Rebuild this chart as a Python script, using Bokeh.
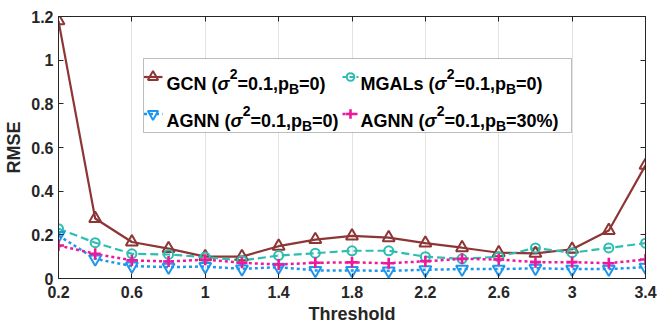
from bokeh.plotting import figure
from bokeh.models import (Range1d, FixedTicker, LinearAxis, CustomJSTickFormatter,
                          BoxAnnotation, Label)
from bokeh.embed import file_html
from bokeh.resources import INLINE

# ---------------- data ----------------
thresholds = [0.2, 0.4, 0.6, 0.8, 1.0, 1.2, 1.4, 1.6, 1.8, 2.0, 2.2, 2.4, 2.6, 2.8, 3.0, 3.2, 3.4]
gcn    = [1.18, 0.275, 0.167, 0.137, 0.100, 0.100, 0.148, 0.178, 0.195, 0.187, 0.162, 0.141, 0.118, 0.115, 0.134, 0.220, 0.518]
mgals  = [0.228, 0.164, 0.113, 0.110, 0.098, 0.083, 0.105, 0.116, 0.127, 0.127, 0.100, 0.090, 0.100, 0.140, 0.118, 0.140, 0.162]
agnn0  = [0.197, 0.090, 0.057, 0.052, 0.055, 0.044, 0.052, 0.037, 0.037, 0.035, 0.040, 0.043, 0.043, 0.047, 0.043, 0.043, 0.052]
agnn30 = [0.151, 0.113, 0.083, 0.078, 0.086, 0.072, 0.064, 0.072, 0.074, 0.070, 0.079, 0.090, 0.087, 0.075, 0.075, 0.070, 0.087]

x_ticks = [0.2, 0.6, 1.0, 1.4, 1.8, 2.2, 2.6, 3.0, 3.4]
y_ticks = [0, 0.2, 0.4, 0.6, 0.8, 1.0, 1.2]

legend_names = ["GCN", "MGALs", "AGNN", "AGNN"]
legend_pB = ["0", "0", "0", "30%"]
sigma2 = "0.1"

XMIN, XMAX = 0.2, 3.4
YMIN, YMAX = 0.0, 1.2

# ---------------- styles ----------------
C_GCN = "#8E3535"
C_MGA = "#2DBDB1"
C_AG0 = "#1E96F0"
C_AG3 = "#F0189A"
AX = "#262626"
FONT = "Liberation Sans"

series = [
    dict(y=gcn,    color=C_GCN, dash="solid", lw=2.2, marker="triangle",          size=12, mlw=2.0),
    dict(y=mgals,  color=C_MGA, dash="8 4",   lw=2.2, marker="circle",            size=9,  mlw=2.0),
    dict(y=agnn0,  color=C_AG0, dash="3 3",   lw=2.5, marker="inverted_triangle", size=12, mlw=2.0),
    dict(y=agnn30, color=C_AG3, dash="3 3",   lw=2.5, marker="cross",             size=11, mlw=2.6),
]

FW, FH = 587, 262
p = figure(frame_width=FW, frame_height=FH,
           x_range=Range1d(XMIN, XMAX), y_range=Range1d(YMIN, YMAX),
           output_backend="svg", toolbar_location=None,
           min_border_left=58, min_border_right=12, min_border_top=16, min_border_bottom=47)
p.background_fill_color = "white"
p.border_fill_color = "white"
p.outline_line_color = AX
p.outline_line_width = 1

fmt = CustomJSTickFormatter(code="return (Math.round(tick*10)/10).toString();")
for ax, ticks in ((p.xaxis, x_ticks), (p.yaxis, y_ticks)):
    ax.ticker = FixedTicker(ticks=ticks)
    ax.formatter = fmt
    ax.axis_line_color = AX
    ax.major_tick_line_color = AX
    ax.major_tick_in = 5
    ax.major_tick_out = 0
    ax.minor_tick_line_color = None
    ax.major_label_text_font = FONT
    ax.major_label_text_font_style = "bold"
    ax.major_label_text_font_size = "16px"
    ax.major_label_text_color = AX
    ax.axis_label_text_font = FONT
    ax.axis_label_text_font_style = "bold"
    ax.axis_label_text_font_size = "18px"
    ax.axis_label_text_color = AX
p.xaxis.axis_label = "Threshold"
p.yaxis.axis_label = "RMSE"
p.xaxis.major_label_standoff = 7
p.xaxis.axis_label_standoff = 3
p.yaxis.major_label_standoff = 5
p.yaxis.axis_label_standoff = 4

p.xgrid.grid_line_color = "#E3E3E3"
p.xgrid.grid_line_width = 1
p.ygrid.visible = False

blank = CustomJSTickFormatter(code="return '';")
for loc, ticks in (("above", x_ticks), ("right", y_ticks)):
    a = LinearAxis(ticker=FixedTicker(ticks=ticks), formatter=blank,
                   axis_line_color=AX, major_tick_line_color=AX,
                   major_tick_in=5, major_tick_out=0, minor_tick_line_color=None,
                   major_label_text_font_size="0px", major_label_standoff=0)
    p.add_layout(a, loc)

# ---------------- data series ----------------
for s in series:
    p.line(thresholds, s["y"], line_color=s["color"], line_width=s["lw"],
           line_dash=s["dash"])
for s in series:
    p.scatter(thresholds, s["y"], marker=s["marker"], size=s["size"],
              line_color=s["color"], line_width=s["mlw"], fill_color=None)

# ---------------- legend (manual, for sub/superscripts) ----------------
# pixel -> data conversion (reference pixel frame: x 58..645, y 278..16)
def dx(px):
    return XMIN + (px - 58.0) / (645.0 - 58.0) * (XMAX - XMIN)

def dy(py):
    return YMIN + (278.0 - py) / (278.0 - 16.0) * (YMAX - YMIN)

p.add_layout(BoxAnnotation(left=dx(143), right=dx(571), top=dy(58), bottom=dy(132),
                           fill_color="white", fill_alpha=1.0,
                           line_color=AX, line_width=1, level="annotation"))

W = {' ': 278, '(': 333, ')': 333, '%': 889, ',': 278, '.': 278, '=': 584,
     'A': 722, 'B': 722, 'C': 722, 'G': 778, 'L': 611, 'M': 833, 'N': 722,
     'S': 667, 'p': 611, 's': 556, 'σ': 620}
for d in "0123456789":
    W[d] = 556

def tw(t, size):
    return sum(W.get(ch, 600) for ch in t) * size / 1000.0

MAIN, SMALL = 18, 14
cols_text = [166, 360]
cols_mark = [152.5, 350]
cols_line = [(143.5, 162), (342, 358)]
rows_base = [83, 120]
rows_mark = [76.5, 113.5]

for i, s in enumerate(series):
    r, c = divmod(i, 2)
    x0 = cols_text[c]
    base = rows_base[r]
    segs = [(legend_names[i] + " (", "n"), ("σ", "i"), ("2", "sup"),
            ("=" + sigma2 + ",p", "n"), ("B", "sub"), ("=" + legend_pB[i] + ")", "n")]
    x = x0
    for t, kind in segs:
        size = SMALL if kind in ("sup", "sub") else MAIN
        yb = base - 10 if kind == "sup" else (base + 5 if kind == "sub" else base)
        style = "bold italic" if kind == "i" else "bold"
        p.add_layout(Label(x=dx(x), y=dy(yb), text=t, text_font=FONT,
                           text_font_size=f"{size}px", text_font_style=style,
                           text_color="black", text_align="left",
                           text_baseline="alphabetic"))
        x += tw(t, size) + (1 if kind == "i" else 0)
    lx0, lx1 = cols_line[c]
    p.line([dx(lx0), dx(lx1)], [dy(rows_mark[r])] * 2, line_color=s["color"],
           line_width=s["lw"], line_dash=s["dash"] if s["dash"] != "8 4" else "5 2",
           level="overlay")
    p.scatter([dx(cols_mark[c])], [dy(rows_mark[r])], marker=s["marker"],
              size=s["size"] * 0.85, line_color=s["color"], line_width=s["mlw"],
              fill_color=None, level="overlay")

open("out.html", "w").write(file_html(p, INLINE))
